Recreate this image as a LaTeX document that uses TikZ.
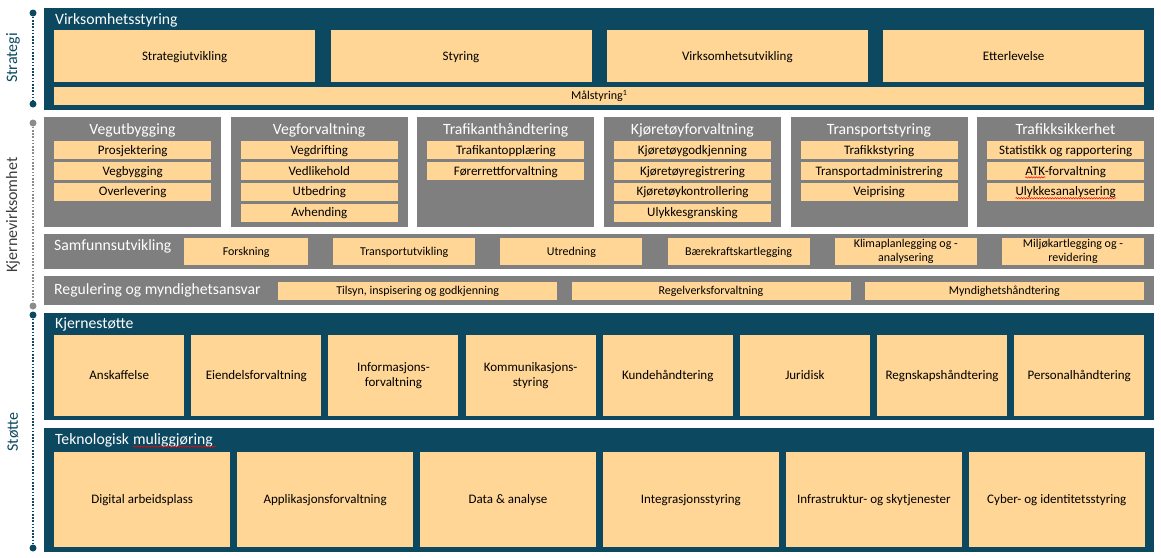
\documentclass[tikz,border=0pt]{standalone}
\usepackage{fontspec}
\setmainfont{Carlito}
\usetikzlibrary{decorations.pathmorphing}
\definecolor{svvteal}{RGB}{12,72,96}
\definecolor{svvorange}{RGB}{255,214,150}
\definecolor{svvgrey}{RGB}{127,127,127}
\definecolor{svvdot}{RGB}{140,140,140}
\definecolor{svvdark}{RGB}{60,60,60}
\newcommand\fItem{\fontsize{13}{14.5}\selectfont}
\newcommand\fSmall{\fontsize{12}{14}\selectfont}
\newcommand\fTitle{\fontsize{15.7}{18}\selectfont}
\newcommand\fAxis{\fontsize{16}{18}\selectfont}
\tikzset{
  band/.style={fill=svvteal, inner sep=0pt, anchor=north west},
  gband/.style={fill=svvgrey, inner sep=0pt, anchor=north west},
  obox/.style={fill=svvorange, inner sep=0pt, anchor=north west, text=black, font=\fItem},
  oneline/.style={text height=9pt, text depth=1pt},
  smallone/.style={font=\fSmall, text height=8.5pt, text depth=1.5pt},
  twoline/.style={align=center},
  itxt/.style={inner sep=0pt, text=black, font=\fItem, text height=9pt, text depth=1pt},
  ttl/.style={text=white, font=\fTitle, inner sep=0pt, anchor=base west},
  gttl/.style={text=white, font=\fTitle, inner sep=0pt, anchor=base},
  adot/.style={circle, fill=#1, inner sep=0pt, minimum size=7pt},
  aline/.style={draw=#1, line width=2pt, dash pattern=on 1.6pt off 1.6pt},
  alabel/.style={rotate=90, font=\fAxis, text=#1, inner sep=0pt},
  squig/.style={draw=red, line width=0.5pt, decorate, decoration={snake, amplitude=0.7pt, segment length=2.6pt}}
}
\begin{document}
\begin{tikzpicture}[x=1pt,y=-1pt]
\useasboundingbox (0,0) rectangle (1161,557);

% ---------- left axis ----------
\node[adot=svvteal] (sa) at (33,13) {};
\node[adot=svvteal] (sb) at (33,104) {};
\draw[aline=svvteal] (sa) -- (sb);
\node[alabel=svvteal] (lstrat) at (13,58) {Strategi};

\node[adot=svvdot] (ka) at (33,123) {};
\node[adot=svvdot] (kb) at (33,306) {};
\draw[aline=svvdot] (ka) -- (kb);
\node[alabel=svvdark] (lkjerne) at (13,215) {Kjernevirksomhet};

\node[adot=svvteal] (ta) at (33,315) {};
\node[adot=svvteal] (tb) at (33,548) {};
\draw[aline=svvteal] (ta) -- (tb);
\node[alabel=svvteal] (lstotte) at (13,432) {Støtte};

% ---------- Strategi ----------
\node[band, minimum width=1110pt, minimum height=102pt] (strat) at (44,8) {};
\node[ttl] (stratT) at (55,24.5) {Virksomhetsstyring};
\foreach \t [count=\i from 0] in {Strategiutvikling,Styring,Virksomhetsutvikling,Etterlevelse}
  \node[obox, oneline, minimum width=261pt, minimum height=52pt] (s\i) at ({54+\i*276.33},30) {\t};
\node[obox, smallone, minimum width=1090pt, minimum height=18pt] (maal) at (54,87) {Målstyring\textsuperscript{1}};

% ---------- Kjernevirksomhet: grey boxes ----------
\foreach \ttl/\items [count=\i from 0] in {
  Vegutbygging/{Prosjektering,Vegbygging,Overlevering},
  Vegforvaltning/{Vegdrifting,Vedlikehold,Utbedring,Avhending},
  Trafikanthåndtering/{Trafikantopplæring,Førerrettforvaltning},
  Kjøretøyforvaltning/{Kjøretøygodkjenning,Kjøretøyregistrering,Kjøretøykontrollering,Ulykkesgransking},
  Transportstyring/{Trafikkstyring,Transportadministrering,Veiprising}}
{
  \node[gband, minimum width=177pt, minimum height=110pt] (g\i) at ({44+\i*186.6},117) {};
  \node[gttl] (g\i t) at ({44+\i*186.6+88.5},134) {\ttl};
  \foreach \it [count=\j from 0] in \items
    \node[obox, oneline, minimum width=157pt, minimum height=18pt] (g\i-\j) at ({54+\i*186.6},{141+\j*20.8}) {\it};
}
\node[gband, minimum width=177pt, minimum height=110pt] (g5) at (977,117) {};
\node[gttl] (g5t) at (1065.5,134) {Trafikksikkerhet};
\node[obox, oneline, minimum width=157pt, minimum height=18pt] (g5-0) at (987,141) {Statistikk og rapportering};
\node[obox, minimum width=157pt, minimum height=18pt] (g5-1) at (987,161.8) {};
\node[itxt] (g5-1t) at (g5-1.center) {ATK-forvaltning};
\node[itxt, anchor=base west] (atkw) at (g5-1t.base west) {\phantom{ATK}};
\node[obox, minimum width=157pt, minimum height=18pt] (g5-2) at (987,182.6) {};
\node[itxt] (g5-2t) at (g5-2.center) {Ulykkesanalysering};
\draw[squig] ([yshift=-2.4pt]atkw.base west) -- ([yshift=-2.4pt]atkw.base east);
\draw[squig] ([yshift=-2.4pt]g5-2t.base west) -- ([yshift=-2.4pt]g5-2t.base east);

% ---------- Samfunnsutvikling ----------
\node[gband, minimum width=1110pt, minimum height=35pt] (samf) at (44,234) {};
\node[ttl] (samfT) at (54,250) {Samfunnsutvikling};
\node[obox, smallone, minimum width=124pt, minimum height=27pt] (sf0) at (184,238) {Forskning};
\foreach \t/\st [count=\i from 1] in {Transportutvikling/smallone, Utredning/smallone, Bærekraftskartlegging/smallone,
   {Klimaplanlegging og -\\analysering}/twoline, {Miljøkartlegging og -\\revidering}/twoline}
  \node[obox, font=\fSmall, \st, minimum width=142pt, minimum height=27pt] (sf\i) at ({333+(\i-1)*167.2},238) {\t};

% ---------- Regulering ----------
\node[gband, minimum width=1110pt, minimum height=28.5pt] (reg) at (44,276) {};
\node[ttl] (regT) at (54,294) {Regulering og myndighetsansvar};
\foreach \t [count=\i from 0] in {{Tilsyn, inspisering og godkjenning},Regelverksforvaltning,Myndighetshåndtering}
  \node[obox, smallone, minimum width=279pt, minimum height=18pt] (r\i) at ({278+\i*293.3},282) {\t};

% ---------- Kjernestøtte ----------
\node[band, minimum width=1110pt, minimum height=107pt] (kst) at (44,313) {};
\node[ttl] (kstT) at (55,328) {Kjernestøtte};
\foreach \t/\st [count=\i from 0] in {Anskaffelse/oneline, Eiendelsforvaltning/oneline,
   {Informasjons-\\forvaltning}/twoline, {Kommunikasjons-\\styring}/twoline,
   Kundehåndtering/oneline, Juridisk/oneline, Regnskapshåndtering/oneline, Personalhåndtering/oneline}
  \node[obox, \st, minimum width=130pt, minimum height=81pt] (k\i) at ({54+\i*137.14},335) {\t};

% ---------- Teknologisk muliggjøring ----------
\node[band, minimum width=1110pt, minimum height=124pt] (tek) at (44,428) {};
\node[ttl] (tekT1) at (55,444) {Teknologisk};
\node[ttl] (tekT2) at ([xshift=3.6pt]tekT1.base east) {muliggjøring};
\draw[squig] ([yshift=-2.6pt]tekT2.base west) -- ([yshift=-2.6pt,xshift=3pt]tekT2.base east);
\foreach \t [count=\i from 0] in {Digital arbeidsplass,Applikasjonsforvaltning,Data \& analyse,Integrasjonsstyring,
   Infrastruktur- og skytjenester,Cyber- og identitetsstyring}
  \node[obox, oneline, minimum width=176pt, minimum height=95pt] (tk\i) at ({54+\i*182.9},452) {\t};
\end{tikzpicture}
\end{document}
